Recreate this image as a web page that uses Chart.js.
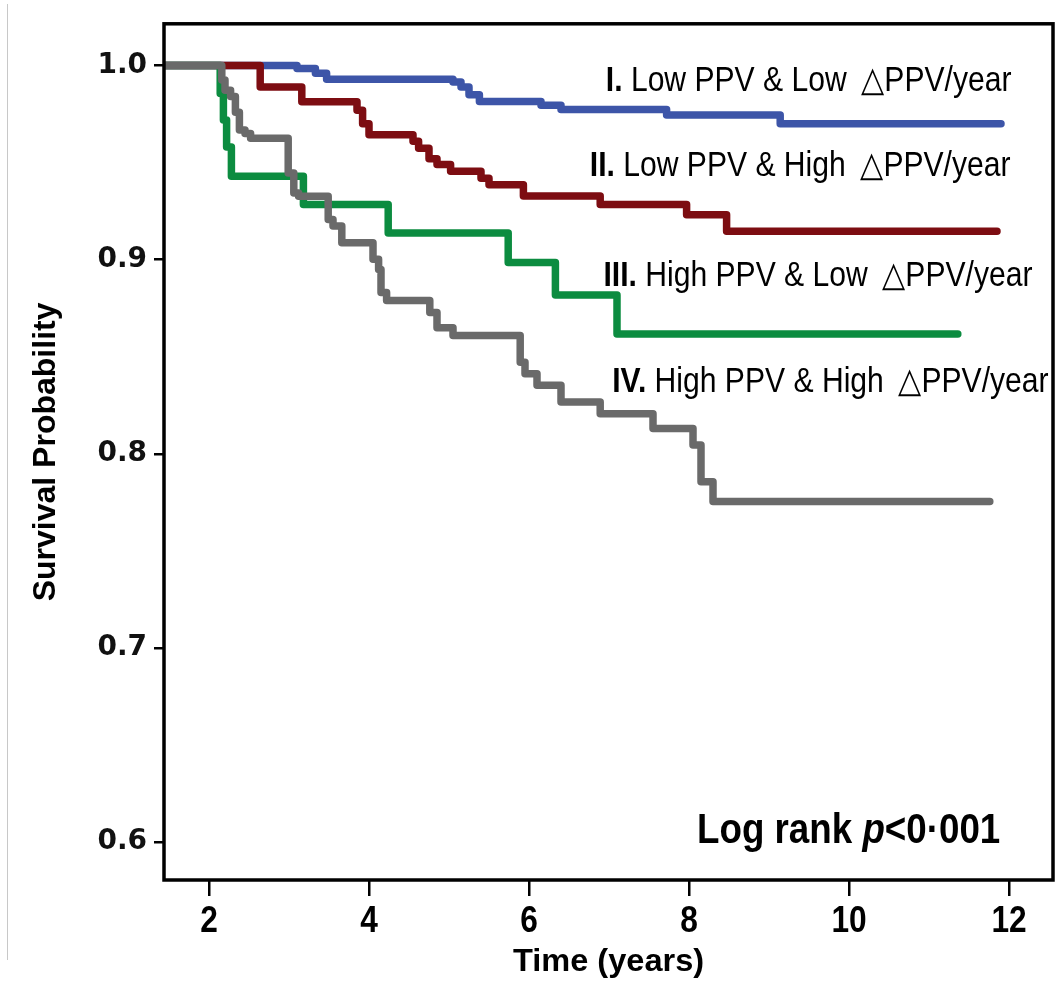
<!DOCTYPE html>
<html>
<head>
<meta charset="utf-8">
<script src="https://cdn.jsdelivr.net/npm/chart.js@4.4.1/dist/chart.umd.min.js"></script>
<style>
html, body { margin: 0; padding: 0; background: #fff; }
#wrap { width: 1056px; height: 986px; position: relative; }
</style>
</head>
<body>
<div id="wrap"><canvas id="km"></canvas></div>
<script>
// Kaplan-Meier steps: time (years) and survival probability
var timeI  = [1.44, 3.10, 3.33, 3.47, 5.05, 5.15, 5.25, 5.38, 6.15, 6.40, 7.72, 9.14, 11.90];
var survI  = [1.0, 0.9985, 0.996, 0.993, 0.9915, 0.989, 0.985, 0.9815, 0.9795, 0.9774, 0.9745, 0.970, 0.970];

var timeII = [1.44, 2.64, 3.16, 3.85, 3.92, 4.00, 4.55, 4.62, 4.75, 4.85, 5.02, 5.40, 5.50, 5.93, 6.89, 7.97, 8.47, 11.85];
var survII = [1.0, 0.989, 0.9814, 0.977, 0.970, 0.9643, 0.961, 0.9574, 0.952, 0.949, 0.9456, 0.942, 0.9386, 0.9328, 0.9284, 0.9232, 0.9147, 0.9147];

var timeIII = [1.44, 2.14, 2.18, 2.22, 2.28, 3.18, 4.24, 5.74, 6.33, 7.10, 11.36];
var survIII = [1.0, 0.9856, 0.972, 0.958, 0.943, 0.9284, 0.9138, 0.8985, 0.8818, 0.8617, 0.8617];

var timeIV = [1.44, 2.16, 2.20, 2.27, 2.33, 2.38, 2.45, 2.52, 2.99, 3.06, 3.12, 3.49, 3.55, 3.66, 4.05, 4.12, 4.15, 4.22,
              4.76, 4.85, 5.05, 5.89, 5.95, 6.10, 6.40, 6.89, 7.55, 8.05, 8.15, 8.30, 11.76];
var survIV = [1.0, 0.9925, 0.9873, 0.984, 0.976, 0.9668, 0.965, 0.9626, 0.9446, 0.9344, 0.9327, 0.9207, 0.9174, 0.9087, 0.9002, 0.895, 0.8831, 0.879,
              0.8728, 0.865, 0.861, 0.8472, 0.8412, 0.8353, 0.8267, 0.8207, 0.813, 0.8046, 0.7856, 0.7754, 0.7754];

var xTicks = [2, 4, 6, 8, 10, 12];
var yTicks = [0.6, 0.7, 0.8, 0.9, 1.0];

var groupNumerals = ['I.', 'II.', 'III.', 'IV.'];
var groupNames = ['Low PPV & Low \u2009\u25B3PPV/year', 'Low PPV & High \u2009\u25B3PPV/year',
                  'High PPV & Low \u2009\u25B3PPV/year', 'High PPV & High \u2009\u25B3PPV/year'];
var groupColors = ['#3d55a8', '#7d0d12', '#0c8c40', '#6a6a6a'];

var sans = "'Liberation Sans', Arial, sans-serif";

function pairs(ts, ss) {
    return ts.map(function(t, i) { return { x: t, y: ss[i] }; });
}

function series(i, ts, ss) {
    return {
        label: groupNumerals[i] + ' ' + groupNames[i],
        data: pairs(ts, ss),
        borderColor: groupColors[i],
        backgroundColor: groupColors[i],
        borderWidth: 7.5,
        stepped: 'before',
        pointRadius: 0,
        fill: false,
        borderCapStyle: 'round',
        borderJoinStyle: 'round',
        order: 4 - i // grey on top, blue underneath
    };
}

// squeezed text, like the narrow type of the original figure
function squeezed(ctx, text, x, y, sx) {
    ctx.save();
    ctx.translate(x, y);
    ctx.scale(sx, 1);
    ctx.fillText(text, 0, 0);
    var w = ctx.measureText(text).width * sx;
    ctx.restore();
    return w;
}

// where the group labels and the log rank text sit, in data units
var groupLabelPos = [[6.96, 0.9867], [6.76, 0.9431], [6.93, 0.8867], [7.04, 0.8318]];

var annotations = {
    id: 'annotations',
    beforeDraw: function(chart) {
        // faint scan edge on the left of the original figure
        var ctx = chart.ctx;
        ctx.save();
        ctx.strokeStyle = '#c8c8c8';
        ctx.lineWidth = 1;
        ctx.beginPath();
        ctx.moveTo(7.5, 4);
        ctx.lineTo(7.5, 960);
        ctx.stroke();
        ctx.restore();
    },
    afterDatasetsDraw: function(chart) {
        var ctx = chart.ctx;
        var xs = chart.scales.x, ys = chart.scales.y;
        var a = chart.chartArea;
        ctx.save();
        ctx.fillStyle = '#000';
        ctx.textBaseline = 'alphabetic';
        ctx.textAlign = 'left';

        for (var i = 0; i < groupNames.length; i++) {
            var px = xs.getPixelForValue(groupLabelPos[i][0]);
            var py = ys.getPixelForValue(groupLabelPos[i][1]);
            ctx.font = 'bold 35px ' + sans;
            px += squeezed(ctx, groupNumerals[i] + ' ', px, py, 0.86);
            ctx.font = '35px ' + sans;
            squeezed(ctx, groupNames[i], px, py, 0.86);
        }

        // Log rank p<0·001, p in italics
        var lx = xs.getPixelForValue(8.1), ly = ys.getPixelForValue(0.5995);
        ctx.font = 'bold 42px ' + sans;
        lx += squeezed(ctx, 'Log rank ', lx, ly, 0.875);
        ctx.font = 'italic bold 42px ' + sans;
        lx += squeezed(ctx, 'p', lx, ly, 0.875);
        ctx.font = 'bold 42px ' + sans;
        squeezed(ctx, '<0\u00B7001', lx, ly, 0.875);

        // x tick labels and axis title
        ctx.textAlign = 'center';
        ctx.font = 'bold 36px ' + sans;
        xs.ticks.forEach(function(t) {
            squeezed(ctx, String(t.value), xs.getPixelForValue(t.value), a.bottom + 52, 0.88);
        });
        ctx.font = 'bold 31px ' + sans;
        squeezed(ctx, 'Time (years)', (a.left + a.right) / 2, a.bottom + 91, 1.05);

        // plot frame
        ctx.strokeStyle = '#000';
        ctx.lineWidth = 3.5;
        ctx.strokeRect(a.left, a.top, a.right - a.left, a.bottom - a.top);
        ctx.restore();
    }
};

var ctx = document.getElementById('km').getContext('2d');
var chart = new Chart(ctx, {
    type: 'line',
    data: {
        datasets: [
            series(0, timeI, survI),
            series(1, timeII, survII),
            series(2, timeIII, survIII),
            series(3, timeIV, survIV)
        ]
    },
    options: {
        responsive: true,
        maintainAspectRatio: false,
        animation: false,
        layout: { padding: { top: 20, right: 3, bottom: 0, left: 0 } },
        plugins: {
            legend: { display: false },
            tooltip: { enabled: false }
        },
        scales: {
            x: {
                type: 'linear',
                min: 1.4375,
                max: 12.55,
                afterBuildTicks: function(scale) {
                    scale.ticks = xTicks.map(function(v) { return { value: v }; });
                },
                afterFit: function(scale) { scale.height = 106; },
                border: { display: false },
                grid: {
                    display: true,
                    drawOnChartArea: false,
                    drawTicks: true,
                    tickLength: 16,
                    lineWidth: 2.5,
                    color: '#000'
                },
                ticks: { display: false } // drawn squeezed by the plugin
            },
            y: {
                type: 'linear',
                min: 0.5805,
                max: 1.0215,
                afterBuildTicks: function(scale) {
                    scale.ticks = yTicks.map(function(v) { return { value: v }; });
                },
                afterFit: function(scale) { scale.width = 164; },
                border: { display: false },
                grid: {
                    display: true,
                    drawOnChartArea: false,
                    drawTicks: true,
                    tickLength: 10,
                    lineWidth: 2.5,
                    color: '#000'
                },
                ticks: {
                    color: '#111',
                    padding: 7,
                    font: { family: "'DejaVu Sans', sans-serif", size: 28, weight: 'bold' },
                    callback: function(v) { return v.toFixed(1); }
                },
                title: {
                    display: true,
                    text: 'Survival Probability',
                    color: '#000',
                    font: { family: sans, size: 32, weight: 'bold', lineHeight: 1 },
                    padding: { top: 30, bottom: 30 }
                }
            }
        }
    },
    plugins: [annotations]
});
</script>
</body>
</html>
